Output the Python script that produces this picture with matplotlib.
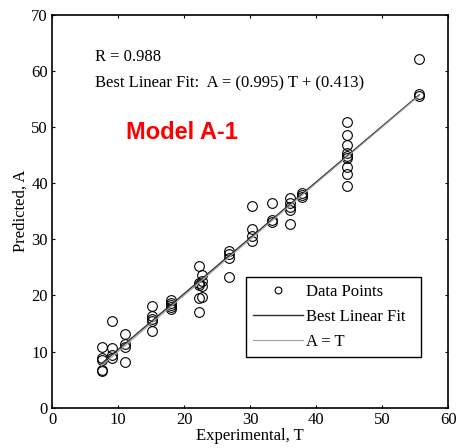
import numpy as np
import matplotlib.pyplot as plt

# values
T = [7.5, 7.5, 7.5, 7.5, 7.5,
     9, 9, 9, 9,
     11, 11, 11, 11,
     15.2, 15.2, 15.2, 15.2, 15.2,
     18, 18, 18, 18, 18,
     22.3, 22.3, 22.3, 22.3, 22.3, 22.7, 22.7, 22.7, 22.7,
     26.8, 26.8, 26.8, 26.8,
     30.3, 30.3, 30.3, 30.3,
     33.3, 33.3, 33.3,
     36, 36, 36, 36, 36,
     37.8, 37.8, 37.8,
     44.7, 44.7, 44.7, 44.7, 44.7, 44.7, 44.7, 44.7, 44.7,
     55.6, 55.6, 55.6]
A = [10.9, 8.8, 8.5, 6.7, 6.5,
     15.4, 10.6, 9.3, 8.8,
     13.2, 11.3, 10.9, 8.1,
     18.1, 16.4, 15.8, 15.4, 13.6,
     19.1, 18.7, 18.3, 17.9, 17.5,
     25.2, 22.2, 21.8, 19.5, 17.0, 23.6, 22.5, 21.6, 19.8,
     28.0, 27.4, 26.6, 23.2,
     35.9, 31.9, 30.5, 29.7,
     36.5, 33.5, 33.0,
     37.3, 36.5, 35.8, 35.2, 32.7,
     38.3, 37.9, 37.6,
     50.9, 48.6, 46.8, 45.3, 44.9, 44.4, 42.9, 41.6, 39.5,
     62.1, 55.8, 55.5]

slope = 0.995
intercept = 0.413
R = 0.988

plt.rcParams['font.family'] = 'Liberation Serif'

fig = plt.figure(figsize=(4.57, 4.48), dpi=100)
ax = fig.add_axes([0.114, 0.09, 0.867, 0.877])

xfit = np.array([min(T), max(T)])
ax.plot(T, A, 'o', mfc='none', mec='black', ms=7, mew=0.8, label='Data Points')
ax.plot(xfit, slope * xfit + intercept, color='#303030', lw=1.0, label='Best Linear Fit')
ax.plot(xfit, xfit, color='#a0a0a0', lw=0.8, label='A = T')

ax.set_xlim(0, 60)
ax.set_ylim(0, 70)
ax.set_xticks(range(0, 61, 10))
ax.set_yticks(range(0, 71, 10))
for s in ax.spines.values():
    s.set_linewidth(1.2)
ax.tick_params(direction='in', top=True, right=True, labelsize=12, length=2.5, pad=3)
ax.set_xlabel('Experimental, T', fontsize=12, labelpad=0)
ax.set_ylabel('Predicted, A', fontsize=12, labelpad=2)

ax.text(6.5, 62.5, 'R = %.3f' % R, fontsize=12, va='center')
ax.text(6.5, 57.7, 'Best Linear Fit:  A = (%.3f) T + (%.3f)' % (slope, intercept),
        fontsize=12, va='center')
ax.text(19.6, 49.1, 'Model A-1', color='red', fontsize=17, fontweight='bold',
        family='Liberation Sans', ha='center', va='center')

leg = ax.legend(loc='upper left', bbox_to_anchor=(0.49, 0.125, 0.44, 0.207),
                mode='expand', fontsize=12, fancybox=False, framealpha=1,
                edgecolor='black', borderaxespad=0, handlelength=3,
                handletextpad=0.2, labelspacing=0.55, markerscale=0.7,
                borderpad=0.4)
leg.get_frame().set_linewidth(1.0)

fig.savefig('out.png', dpi=100)
